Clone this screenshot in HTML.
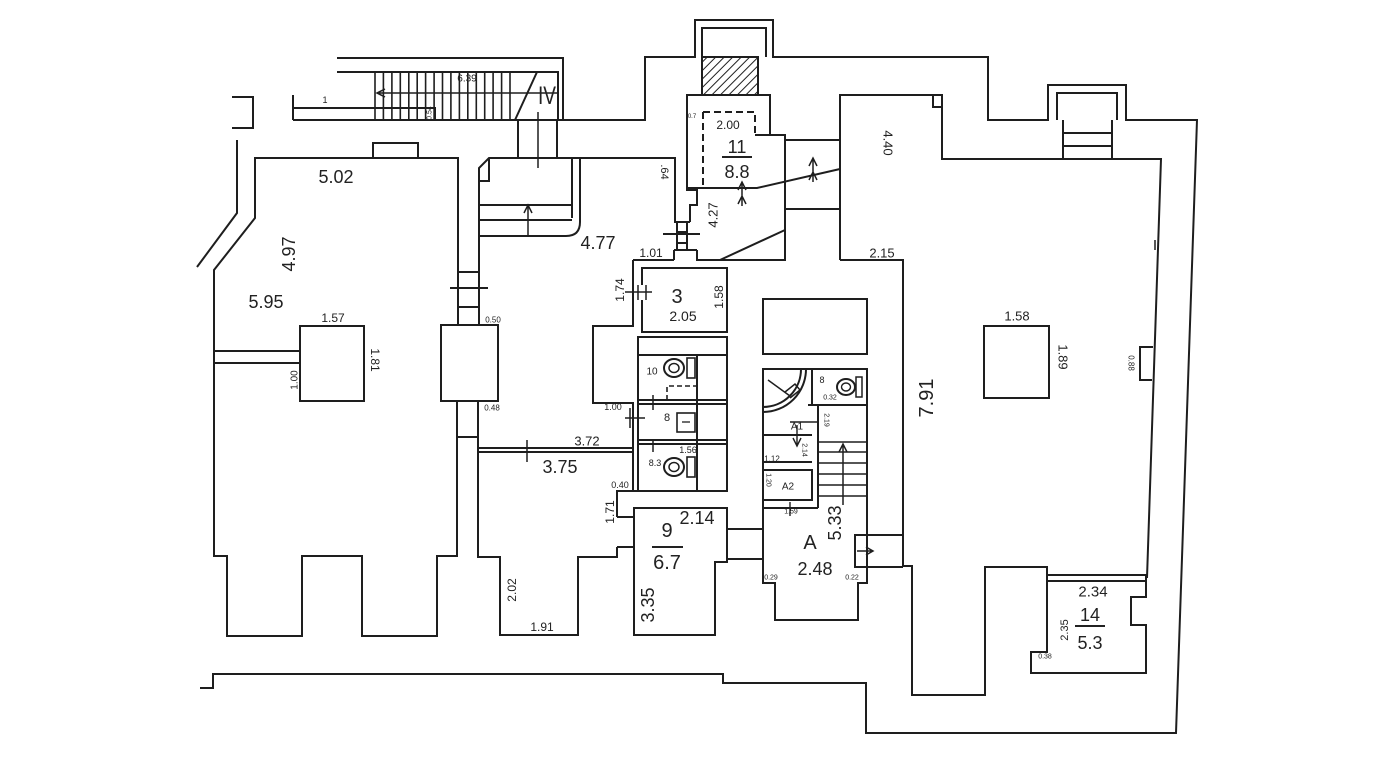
<!DOCTYPE html>
<html><head><meta charset="utf-8"><style>
html,body{margin:0;padding:0;background:#fff;}
svg{display:block;}
text{font-family:"Liberation Sans",sans-serif;fill:#222;text-anchor:middle;dominant-baseline:central;}
</style></head><body>
<svg width="1393" height="768" viewBox="0 0 1393 768" xmlns="http://www.w3.org/2000/svg">
<defs>
<pattern id="h" width="6" height="6" patternUnits="userSpaceOnUse" patternTransform="rotate(45)">
<line x1="0" y1="0" x2="0" y2="6" stroke="#222" stroke-width="2"/>
</pattern>
</defs>
<rect width="1393" height="768" fill="#fff"/>
<g fill="none" stroke="#1e1e1e" stroke-width="2">
<!-- outer -->
<path d="M337,58 H563 V120"/>
<path d="M293,120 H645 V57 H695 V20 H773 V57 H988 V120 H1048 V85 H1126 V120 H1197 L1176,733 H866 V683 H723 V674 H213 V688 H200"/>
<path d="M702,57 V28 H766 V57"/>
<rect x="702" y="57" width="56" height="38" fill="url(#h)"/>
<path d="M1057,120 V93 H1117 V120"/>
<!-- top stair -->
<path d="M337,72 H558 V120 M293,95 V120 M293,108 H435 V120 M515,120 L537,72"/>
<path d="M375,72V120 M383.4,72V120 M391.9,72V120 M400.3,72V120 M408.8,72V120 M417.2,72V120 M425.6,72V120 M434.1,72V120 M442.5,72V120 M450.9,72V120 M459.4,72V120 M467.8,72V120 M476.3,72V120 M484.7,72V120 M493.1,72V120 M501.6,72V120 M510,72V120" stroke-width="1.6"/>
<path d="M377,93 H558 M385,89 L377,93 L385,97" stroke-width="1.5"/>
<path d="M518,120 V158 M557,120 V158"/>
<path d="M538,112 V168" stroke-width="1.5"/>
<!-- left fragments -->
<path d="M232,97 H253 V128 H232"/>
<path d="M237,140 V213 L197,267"/>
<!-- room 5.95 -->
<path d="M458,325 V158 H255 V218 L214,270 V556 H227 V636 H302 V556 H362 V636 H437 V556 H457 V401"/>
<path d="M373,158 V143 H418 V158"/>
<path d="M441,325 H498 V401 H441 Z"/>
<rect x="300" y="326" width="64" height="75"/>
<path d="M214,351 H300 M214,363 H300"/>
<path d="M458,272 H479 M458,307 H479 M450,288 H488 M457,437 H478"/>
<!-- room 4.77 -->
<path d="M479,325 V168 L489,158 H675 V222"/>
<path d="M489,158 V181 H479"/>
<path d="M572,158 V218 M580,158 V222 Q580,236 566,236 H479 M479,205 H572 M479,220 H572"/>
<path d="M528,236 V206 M524,213 L528,205 L532,213" stroke-width="1.5"/>
<path d="M677,222 V250 M687,222 V250 M674,222 H690 M674,250 H697 M677,232 H687 M677,243 H687 M663,234 H700 M674,250 V260"/>
<!-- room 11 -->
<path d="M690,222 V205 H697 V190 H687 V95 H770 V135 H785 V260 H697 V250"/>
<path d="M755,135 H770"/>
<path d="M703,112 V188 M703,112 H755 V135" stroke-dasharray="7,4"/>
<path d="M687,188 H757 L840,169"/>
<path d="M697,260 H785 M720,260 L785,230"/>
<path d="M785,140 H840 M785,209 H840"/>
<path d="M742,206 V182 M738,190 L742,182 L746,190 M738,204 L742,196 L746,204" stroke-width="1.5"/>
<path d="M813,182 V158 M809,166 L813,158 L817,166 M809,180 L813,172 L817,180" stroke-width="1.5"/>
<!-- right room -->
<path d="M840,260 V95 H942 V159 H1161 L1147,578"/>
<path d="M933,95 V107 H942"/>
<path d="M1063,120 V159 M1112,120 V159 M1063,133 H1112 M1063,146 H1112"/>
<path d="M840,260 H903 V566 H912 V695 H985 V567 H1047 V652 H1031 V673 H1146 V625 H1131 V597 H1146 V575"/>
<path d="M1047,575 H1147 M1047,581 H1147"/>
<path d="M1153,347 H1140 V380 H1152"/>
<rect x="984" y="326" width="65" height="72"/>
<path d="M1155,240 V250" stroke-width="1.5"/>
<!-- room 3 and corridor -->
<path d="M633,260 H674"/>
<path d="M633,260 V326 H593 V403 H633 V491"/>
<path d="M642,285 V268 H727 V332 H642 V300"/>
<path d="M638,285 V300 M646,285 V300 M625,292 H652" stroke-width="1.5"/>
<path d="M625,418 H645 M630,408 V428" stroke-width="1.5"/>
<!-- toilets -->
<rect x="638" y="337" width="89" height="154"/>
<path d="M638,355 H727 M697,355 V491 M638,400 H727 M638,404 H727 M638,440 H727 M638,444 H727"/>
<path d="M667,400 V386 H697" stroke-dasharray="5,3" stroke-width="1.6"/>
<ellipse cx="674" cy="368" rx="10" ry="9"/><ellipse cx="674" cy="368" rx="5" ry="4.5" stroke-width="1.5"/>
<rect x="687" y="358" width="8" height="20" stroke-width="1.6"/>
<rect x="677" y="413" width="18" height="19" stroke-width="1.6"/>
<path d="M682,422 H690" stroke-width="1.3"/>
<ellipse cx="674" cy="467" rx="10" ry="9"/><ellipse cx="674" cy="467" rx="5" ry="4.5" stroke-width="1.5"/>
<rect x="687" y="457" width="8" height="20" stroke-width="1.6"/>
<path d="M653,440 V452 M653,395 V410" stroke-width="1.5"/>
<!-- 3.72 line -->
<path d="M478,448 H633 M478,452 H633"/>
<path d="M527,440 V462" stroke-width="1.5"/>
<!-- room 3.75 -->
<path d="M478,401 V557 H500 V635 H578 V557 H617 V547 M617,517 V491 H638"/>
<path d="M617,517 H634 M617,547 H634"/>
<!-- room 9 -->
<path d="M634,508 H727 V562 H715 V635 H634 Z"/>
<path d="M727,529 H763 M727,559 H763"/>
<!-- A -->
<rect x="763" y="299" width="104" height="55"/>
<path d="M763,369 H867 V583 H858 V620 H775 V583 H763 Z"/>
<path d="M812,369 V405 M808,405 H867 M818,405 V508 M763,435 H812 M763,462 H812 M763,470 H812 V500 H763 M763,508 H818"/>
<path d="M818,442 H867 M818,452 H867 M818,463 H867 M818,474 H867 M818,485 H867 M818,496 H867" stroke-width="1.6"/>
<path d="M843,505 V444 M839,452 L843,444 L847,452" stroke-width="1.5"/>
<path d="M801,369 A38,38 0 0,1 763,407 M806,369 A43,43 0 0,1 763,412"/>
<path d="M768,380 L790,396 M785,392 L795,384 L800,390 L790,398" stroke-width="1.5"/>
<ellipse cx="846" cy="387" rx="9" ry="8"/><ellipse cx="846" cy="387" rx="4.5" ry="4" stroke-width="1.4"/>
<rect x="856" y="377" width="6" height="20" stroke-width="1.5"/>
<path d="M790,422 H818 M797,425 V445 M793,438 L797,446 L801,438" stroke-width="1.4"/>
<path d="M790,502 V516" stroke-width="1.4"/>
<rect x="855" y="535" width="12" height="32"/>
<path d="M867,535 H903 M867,567 H903"/>
<path d="M857,551 H873 M866,547 L873,551 L866,555" stroke-width="1.5"/>
</g>
<!-- fraction bars -->
<g stroke="#222" stroke-width="2">
<line x1="722" y1="157" x2="752" y2="157"/>
<line x1="652" y1="547" x2="683" y2="547"/>
<line x1="1075" y1="626" x2="1105" y2="626"/>
</g>
<!-- labels -->
<text x="336" y="177" font-size="18">5.02</text>
<text x="289" y="254" font-size="18" transform="rotate(-90 289 254)">4.97</text>
<text x="266" y="302" font-size="18">5.95</text>
<text x="333" y="318" font-size="12">1.57</text>
<text x="375" y="360" font-size="12" transform="rotate(90 375 360)">1.81</text>
<text x="295" y="380" font-size="10" transform="rotate(-90 295 380)">1.00</text>
<text x="547" y="96" font-size="25" textLength="18" lengthAdjust="spacingAndGlyphs">IV</text>
<text x="467" y="79" font-size="10">6.39</text>
<text x="325" y="100" font-size="9">1</text>
<text x="430" y="113" font-size="7" transform="rotate(-90 430 113)">0.54</text>
<text x="493" y="320" font-size="8">0.50</text>
<text x="492" y="408" font-size="8">0.48</text>
<text x="598" y="243" font-size="18">4.77</text>
<text x="664" y="172" font-size="11" transform="rotate(90 664 172)">.64</text>
<text x="651" y="253" font-size="12">1.01</text>
<text x="728" y="125" font-size="12">2.00</text>
<text x="692" y="117" font-size="6">0.7</text>
<text x="737" y="147" font-size="18">11</text>
<text x="737" y="172" font-size="18">8.8</text>
<text x="713" y="215" font-size="13" transform="rotate(-90 713 215)">4.27</text>
<text x="888" y="143" font-size="13" transform="rotate(90 888 143)">4.40</text>
<text x="882" y="253" font-size="13">2.15</text>
<text x="677" y="297" font-size="20">3</text>
<text x="683" y="316" font-size="14">2.05</text>
<text x="719" y="297" font-size="12" transform="rotate(-90 719 297)">1.58</text>
<text x="620" y="290" font-size="12" transform="rotate(-90 620 290)">1.74</text>
<text x="1017" y="316" font-size="13">1.58</text>
<text x="1063" y="357" font-size="13" transform="rotate(90 1063 357)">1.89</text>
<text x="1131" y="363" font-size="8" transform="rotate(90 1131 363)">0.88</text>
<text x="927" y="398" font-size="20" transform="rotate(-90 927 398)">7.91</text>
<text x="587" y="441" font-size="13">3.72</text>
<text x="560" y="467" font-size="18">3.75</text>
<text x="613" y="407" font-size="9">1.00</text>
<text x="652" y="372" font-size="10">10</text>
<text x="667" y="418" font-size="11">8</text>
<text x="655" y="463" font-size="9">8.3</text>
<text x="688" y="450" font-size="9">1.56</text>
<text x="620" y="485" font-size="9">0.40</text>
<text x="610" y="512" font-size="12" transform="rotate(-90 610 512)">1.71</text>
<text x="667" y="531" font-size="20">9</text>
<text x="667" y="563" font-size="20">6.7</text>
<text x="697" y="518" font-size="18">2.14</text>
<text x="648" y="605" font-size="18" transform="rotate(-90 648 605)">3.35</text>
<text x="512" y="590" font-size="12" transform="rotate(-90 512 590)">2.02</text>
<text x="542" y="627" font-size="12">1.91</text>
<text x="822" y="380" font-size="9">8</text>
<text x="830" y="398" font-size="7">0.32</text>
<text x="797" y="427" font-size="10">A1</text>
<text x="804" y="450" font-size="7" transform="rotate(90 804 450)">2.14</text>
<text x="826" y="420" font-size="7" transform="rotate(90 826 420)">2.19</text>
<text x="772" y="459" font-size="8">1.12</text>
<text x="788" y="487" font-size="10">A2</text>
<text x="768" y="480" font-size="7" transform="rotate(90 768 480)">1.20</text>
<text x="791" y="512" font-size="7">1.59</text>
<text x="810" y="543" font-size="20">A</text>
<text x="835" y="523" font-size="18" transform="rotate(-90 835 523)">5.33</text>
<text x="815" y="569" font-size="18">2.48</text>
<text x="771" y="578" font-size="7">0.29</text>
<text x="852" y="578" font-size="7">0.22</text>
<text x="1093" y="592" font-size="15">2.34</text>
<text x="1090" y="615" font-size="18">14</text>
<text x="1090" y="643" font-size="18">5.3</text>
<text x="1065" y="630" font-size="11" transform="rotate(-90 1065 630)">2.35</text>
<text x="1045" y="657" font-size="7">0.38</text>
</svg>
</body></html>
